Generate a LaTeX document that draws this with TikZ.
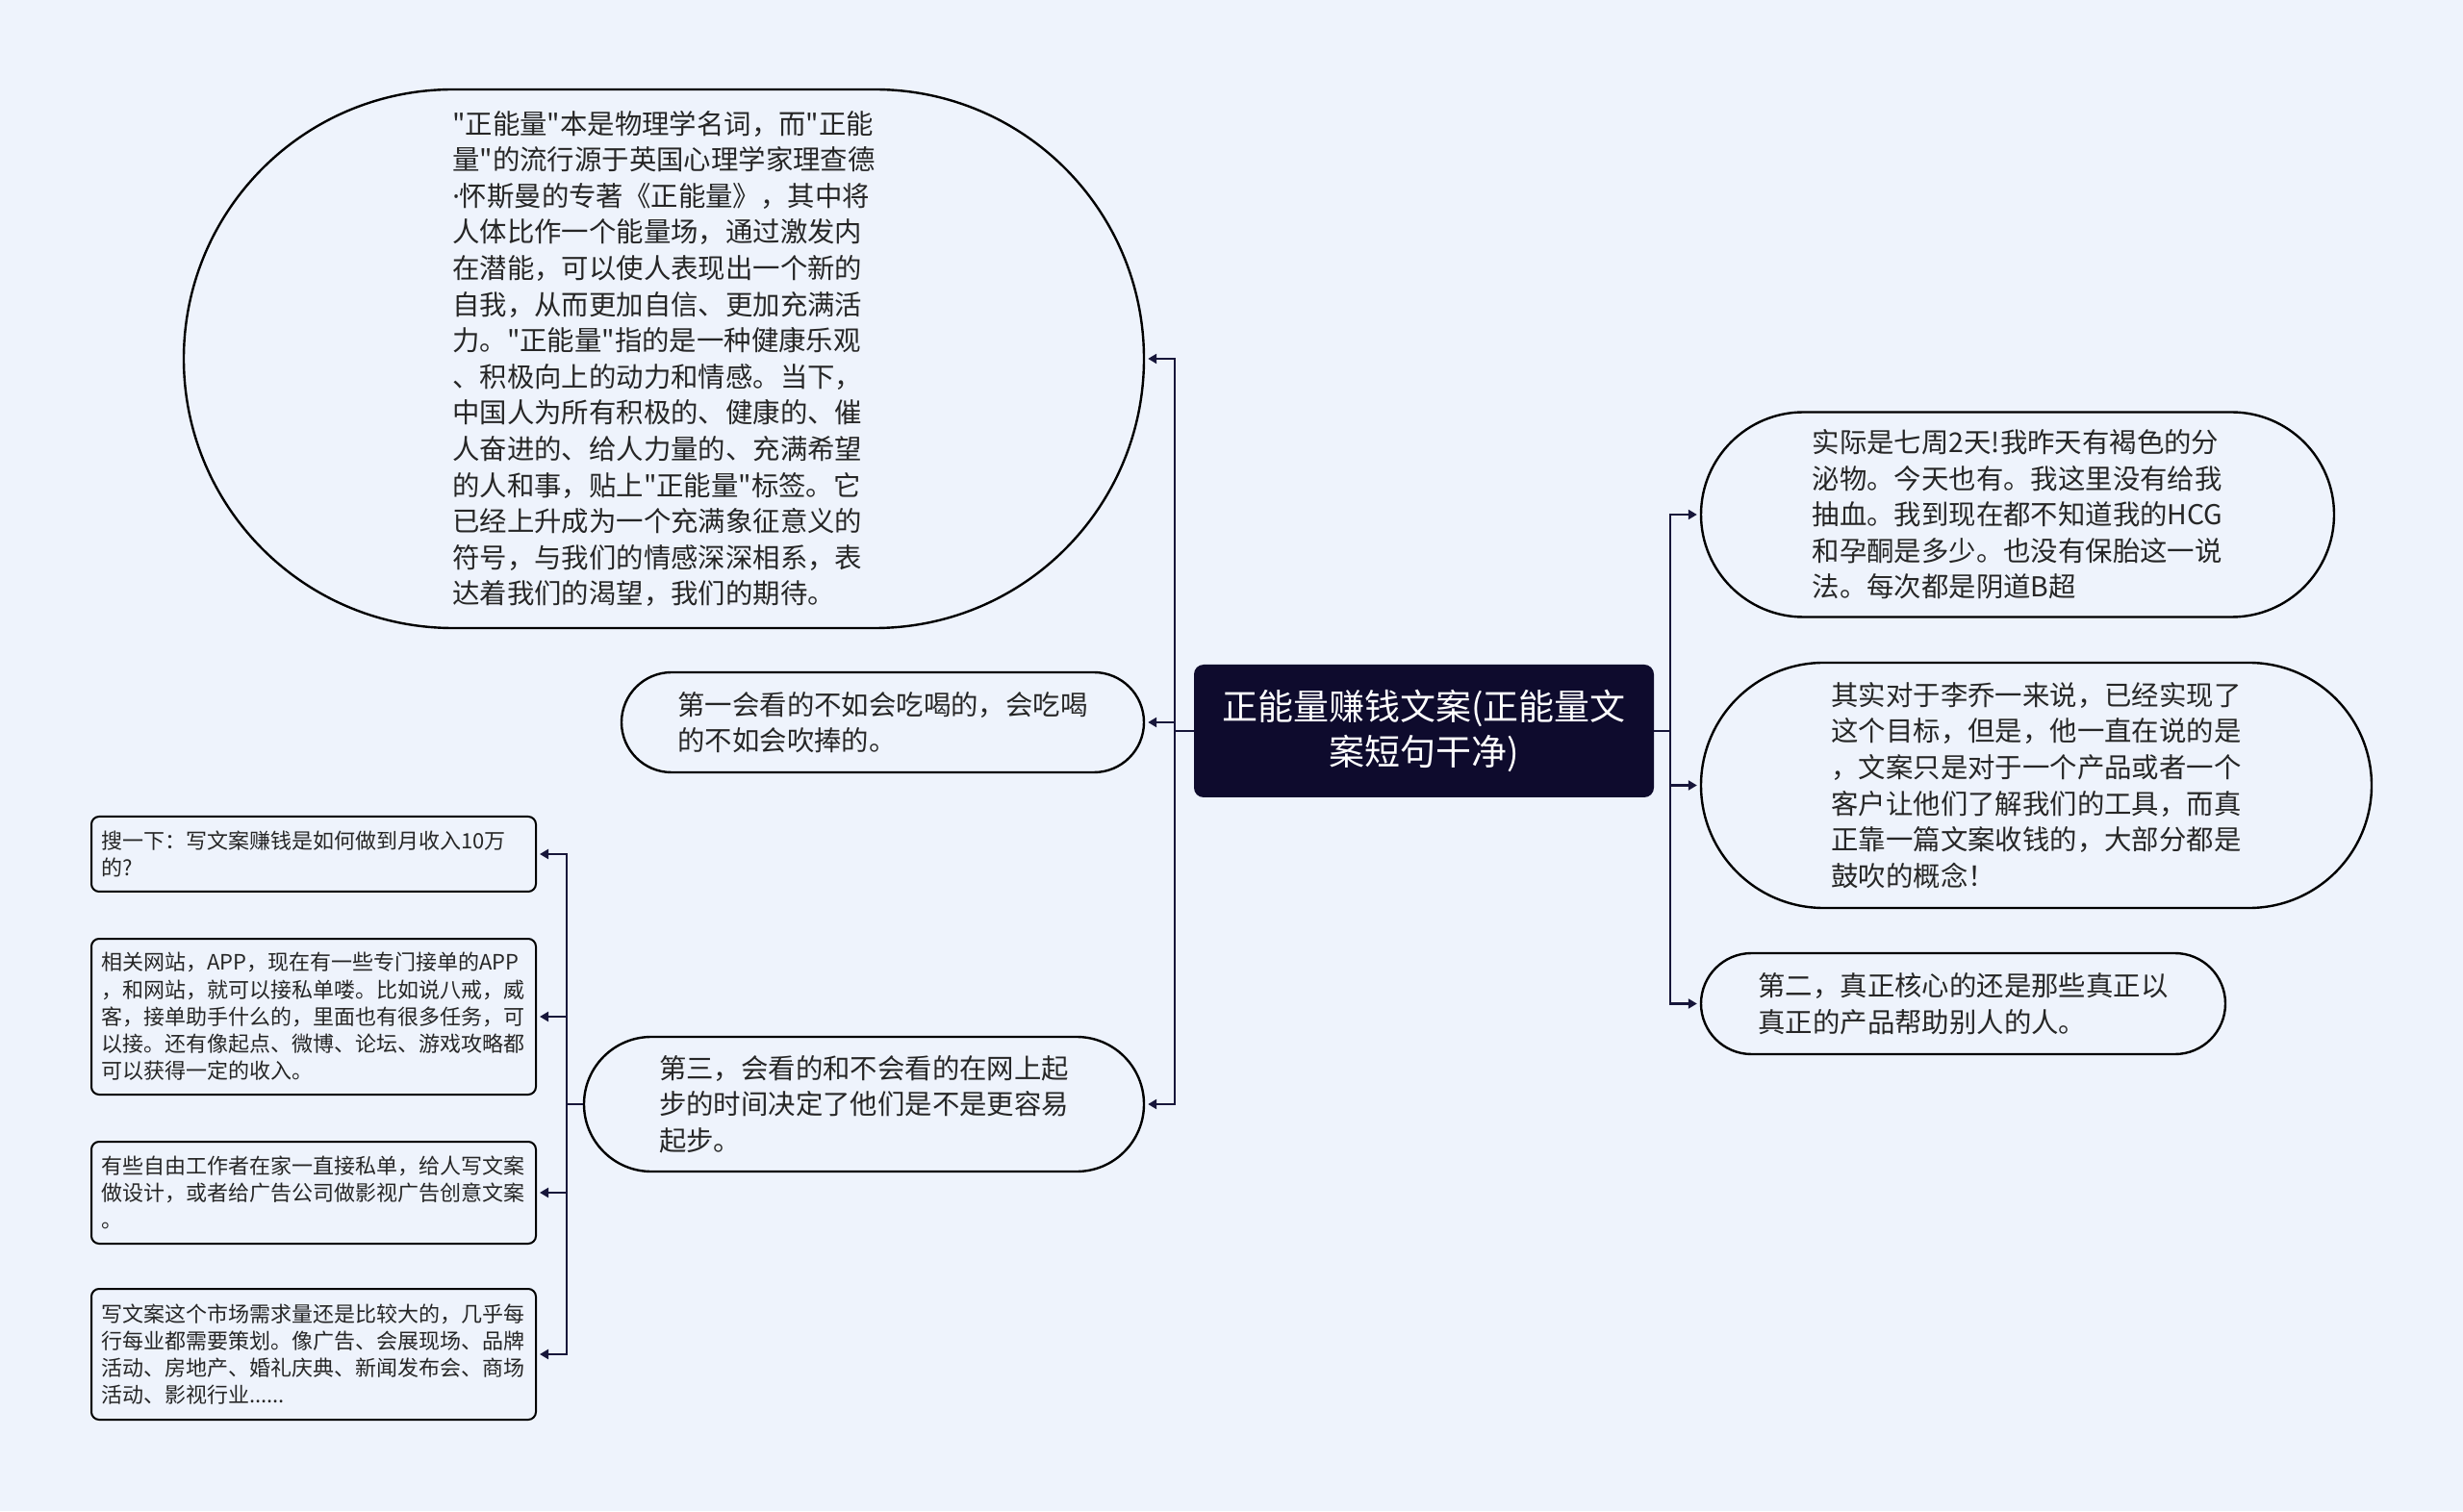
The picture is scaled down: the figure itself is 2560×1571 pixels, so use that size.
\documentclass[tikz,border=0pt]{standalone}
\usepackage{fontspec}
\setmainfont{Noto Sans CJK SC}[Ligatures=TeXOff]
\newfontfamily\latinfont{Noto Sans}
\usetikzlibrary{arrows.meta, shapes.misc}
\definecolor{bgblue}{HTML}{EEF3FC}
\definecolor{rootnavy}{HTML}{0E0B2D}
\definecolor{linknavy}{HTML}{17163A}
\definecolor{textgray}{HTML}{262626}

\begin{document}
\begin{tikzpicture}[x=0.5pt, y=0.5pt, >={Triangle[length=4.5pt,width=5pt]},
  link/.style={draw=linknavy, line width=1.3pt},
  tip/.style={link, ->, shorten >=1.5pt},
  rootbox/.style={fill=rootnavy, rounded corners=5pt, text=white, align=center,
    font=\fontsize{18.5}{23.5}\selectfont, minimum width=239pt, minimum height=69pt},
  pill/.style={rounded rectangle, draw=black, line width=1.2pt, fill=bgblue,
    text=textgray, align=left, inner xsep=0pt, font=\fontsize{14.2}{18.8}\selectfont},
  leaf/.style={rectangle, rounded corners=4pt, draw=black, line width=1pt, fill=bgblue,
    text=textgray, align=left, text width=221pt, inner xsep=5pt, minimum width=231pt,
    font=\fontsize{11}{14.1}\selectfont}]
  \fill[bgblue] (0,0) rectangle (2560,1571);
  \useasboundingbox (0,0) rectangle (2560,1571);

  % centre topic
  \node[rootbox] (root) at (1480,811) {正能量赚钱文案(正能量文\\案短句干净)};

  % left branch
  \node[pill, minimum width=499pt, minimum height=280pt] (E) at (690,1198)
    {"正能量"本是物理学名词，而"正能\\量"的流行源于英国心理学家理查德\\{\latinfont ·}怀斯曼的专著《正能量》，其中将\\人体比作一个能量场，通过激发内\\在潜能，可以使人表现出一个新的\\自我，从而更加自信、更加充满活\\力。"正能量"指的是一种健康乐观\\、积极向上的动力和情感。当下，\\中国人为所有积极的、健康的、催\\人奋进的、给人力量的、充满希望\\的人和事，贴上"正能量"标签。它\\已经上升成为一个充满象征意义的\\符号，与我们的情感深深相系，表\\达着我们的渴望，我们的期待。};
  \node[pill, minimum width=271.5pt, minimum height=52pt] (N2) at (917.5,820)
    {第一会看的不如会吃喝的，会吃喝\\的不如会吹捧的。};
  \node[pill, minimum width=291pt, minimum height=70pt] (N3) at (898,423)
    {第三，会看的和不会看的在网上起\\步的时间决定了他们是不是更容易\\起步。};

  % right branch
  \node[pill, minimum width=329pt, minimum height=106.5pt] (R1) at (2097,1036)
    {实际是七周2天!我昨天有褐色的分\\泌物。今天也有。我这里没有给我\\抽血。我到现在都不知道我的HCG\\和孕酮是多少。也没有保胎这一说\\法。每次都是阴道B超};
  \node[pill, minimum width=348.5pt, minimum height=127.5pt] (R2) at (2116.5,754.5)
    {其实对于李乔一来说，已经实现了\\这个目标，但是，他一直在说的是\\，文案只是对于一个产品或者一个\\客户让他们了解我们的工具，而真\\正靠一篇文案收钱的，大部分都是\\鼓吹的概念！};
  \node[pill, minimum width=272.5pt, minimum height=52.5pt] (R3) at (2040.5,527.5)
    {第二，真正核心的还是那些真正以\\真正的产品帮助别人的人。};

  % leaves under N3
  \node[leaf, minimum height=39pt] (L1) at (326,683)
    {搜一下：写文案赚钱是如何做到月收入10万\\的?};
  \node[leaf, minimum height=81pt] (L2) at (326,514)
    {相关网站，APP，现在有一些专门接单的APP\\，和网站，就可以接私单喽。比如说八戒，威\\客，接单助手什么的，里面也有很多任务，可\\以接。还有像起点、微博、论坛、游戏攻略都\\可以获得一定的收入。};
  \node[leaf, minimum height=53pt] (L3) at (326,331)
    {有些自由工作者在家一直接私单，给人写文案\\做设计，或者给广告公司做影视广告创意文案\\。};
  \node[leaf, minimum height=68pt] (L4) at (326,163)
    {写文案这个市场需求量还是比较大的，几乎每\\行每业都需要策划。像广告、会展现场、品牌\\活动、房地产、婚礼庆典、新闻发布会、商场\\活动、影视行业......};

  % connectors
  \coordinate (lj) at (1221,811);
  \coordinate (rj) at (1736,811);
  \coordinate (sj) at (589,423);
  \draw[link] (root.west) -- (lj);
  \draw[tip] (lj) |- (E.east);
  \draw[tip] (lj) |- (N2.east);
  \draw[tip] (lj) |- (N3.east);
  \draw[link] (root.east) -- (rj);
  \draw[tip] (rj) |- (R1.west);
  \draw[tip] (rj) |- (R2.west);
  \draw[tip] (rj) |- (R3.west);
  \draw[link] (N3.west) -- (sj);
  \draw[tip] (sj) |- (L1.east);
  \draw[tip] (sj) |- (L2.east);
  \draw[tip] (sj) |- (L3.east);
  \draw[tip] (sj) |- (L4.east);
\end{tikzpicture}
\end{document}
